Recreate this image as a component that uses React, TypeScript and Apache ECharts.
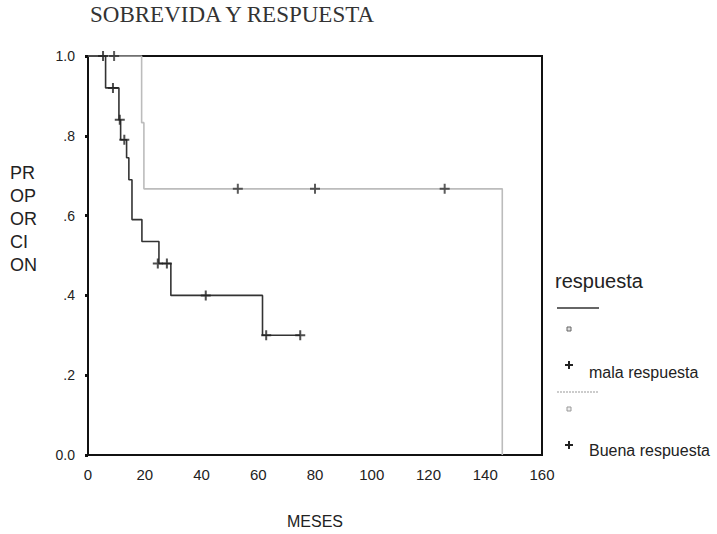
import React, { useEffect, useRef } from "react";
import * as echarts from "echarts";

const TITLE = "SOBREVIDA Y RESPUESTA";
const X_TICKS = [0, 20, 40, 60, 80, 100, 120, 140, 160];
const Y_TICK_LABELS: Record<string, string> = { "0": "0.0", "0.2": ".2", "0.4": ".4", "0.6": ".6", "0.8": ".8", "1": "1.0" };

// Kaplan-Meier steps: [months, proportion]
const malaSteps: [number, number][] = [
  [0, 1.0], [6.2, 0.92], [10.9, 0.84], [11.5, 0.79], [13.6, 0.745], [14.4, 0.69],
  [15.5, 0.59], [19, 0.535], [25, 0.48], [29.2, 0.40], [61.5, 0.30], [74.8, 0.30],
];
const buenaSteps: [number, number][] = [
  [0, 1.0], [18.9, 0.833], [19.7, 0.667], [146, 0.667], [146, 0],
];
// censored observations
const malaCensored: [number, number][] = [
  [5.3, 1.0], [8.8, 0.92], [11.2, 0.84], [12.8, 0.79], [24.6, 0.48], [27.8, 0.48],
  [41.5, 0.40], [62.8, 0.30], [74.8, 0.30],
];
const buenaCensored: [number, number][] = [
  [9.2, 1.0], [52.8, 0.667], [80, 0.667], [125.7, 0.667],
];

const PLUS = "path://M0,4H10V6H0ZM4,0H6V10H4Z";

function plus(cx: number, cy: number) {
  return [
    { type: "line", shape: { x1: cx - 4, y1: cy, x2: cx + 4, y2: cy }, style: { stroke: "#222", lineWidth: 2 } },
    { type: "line", shape: { x1: cx, y1: cy - 4, x2: cx, y2: cy + 4 }, style: { stroke: "#222", lineWidth: 2 } },
  ];
}

export default function App() {
  const ref = useRef<HTMLDivElement>(null);
  useEffect(() => {
    if (!ref.current) return;
    const chart = echarts.init(ref.current, undefined, { renderer: "svg" });
    const font = "Liberation Sans, Arial, sans-serif";
    chart.setOption({
      animation: false,
      backgroundColor: "#fff",
      grid: {
        left: 88, right: 175, top: 56, bottom: 79,
        show: true, borderColor: "#111", borderWidth: 2, backgroundColor: "transparent",
      },
      xAxis: {
        type: "value", min: 0, max: 160, interval: 20,
        axisLine: { show: false }, axisTick: { show: false }, splitLine: { show: false },
        axisLabel: { color: "#222", fontSize: 15, fontFamily: font, margin: 12,
          formatter: (v: number) => (X_TICKS.includes(v) ? String(v) : "") },
        name: "MESES", nameLocation: "middle", nameGap: 58,
        nameTextStyle: { color: "#222", fontSize: 16, fontFamily: font },
      },
      yAxis: {
        type: "value", min: 0, max: 1, interval: 0.2,
        axisLine: { show: false },
        axisTick: { show: true, length: 3, lineStyle: { color: "#111", width: 3 } },
        splitLine: { show: false },
        axisLabel: { color: "#222", fontSize: 14, fontFamily: font, margin: 13,
          formatter: (v: number) => Y_TICK_LABELS[String(Math.round(v * 10) / 10)] ?? "" },
      },
      series: [
        {
          type: "line", name: "Buena respuesta", data: buenaSteps, step: "end",
          symbol: "none", lineStyle: { color: "#bcbcbc", width: 1.6 }, z: 2,
        },
        {
          type: "line", name: "mala respuesta", data: malaSteps, step: "end",
          symbol: "none", lineStyle: { color: "#333", width: 1.6 }, z: 3,
        },
        {
          type: "scatter", data: buenaCensored, symbol: PLUS, symbolSize: 10,
          itemStyle: { color: "#333" }, z: 4,
        },
        {
          type: "scatter", data: malaCensored, symbol: PLUS, symbolSize: 10,
          itemStyle: { color: "#222" }, z: 4,
        },
      ],
      graphic: [
        { type: "text", left: 90, top: 3,
          style: { text: TITLE, font: "23px 'Liberation Serif', 'Times New Roman', serif", fill: "#333" } },
        { type: "text", left: 10, top: 161,
          style: { text: "PR\nOP\nOR\nCI\nON", font: "18px " + font, fill: "#222", lineHeight: 23 } },
        { type: "text", left: 555, top: 271,
          style: { text: "respuesta", font: "20px " + font, fill: "#222" } },
        { type: "line", shape: { x1: 557, y1: 308, x2: 599, y2: 308 }, style: { stroke: "#333", lineWidth: 1.5 } },
        { type: "rect", shape: { x: 567, y: 327, width: 4, height: 4 }, style: { fill: "#ddd", stroke: "#666", lineWidth: 1 } },
        ...plus(569, 365),
        { type: "text", left: 589, top: 364, style: { text: "mala respuesta", font: "16px " + font, fill: "#222" } },
        { type: "line", shape: { x1: 557, y1: 392, x2: 599, y2: 392 }, style: { stroke: "#999", lineWidth: 1, lineDash: [2, 1] } },
        { type: "rect", shape: { x: 567, y: 407, width: 4, height: 4 }, style: { fill: "#eee", stroke: "#999", lineWidth: 1 } },
        ...plus(569, 445),
        { type: "text", left: 589, top: 442, style: { text: "Buena respuesta", font: "16px " + font, fill: "#222" } },
      ],
    });
    return () => chart.dispose();
  }, []);
  return <div ref={ref} style={{ width: 717, height: 534, position: "absolute", left: 0, top: 0 }} />;
}
